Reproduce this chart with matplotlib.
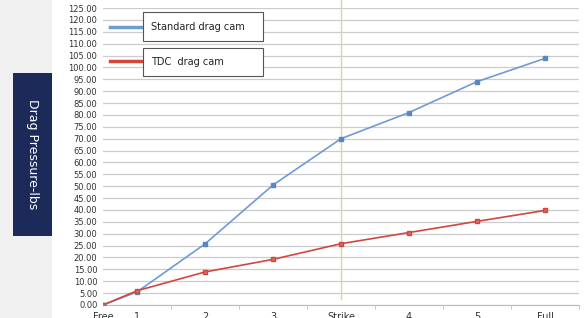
import matplotlib
matplotlib.use("Agg")
import matplotlib.pyplot as plt
from matplotlib.patches import Rectangle
import numpy as np

categories = ["Free", "1", "2", "3", "Strike", "4", "5", "Full"]
cat_pos = [0, 0.5, 1.5, 2.5, 3.5, 4.5, 5.5, 6.5]
standard = [0.0, 5.5, 25.7, 50.5, 70.0, 81.0, 94.0, 103.8]
tdc = [0.0, 6.0, 13.9, 19.2, 25.8, 30.5, 35.2, 39.8]
series_names = ["Standard drag cam", "TDC  drag cam"]
yticks = np.arange(0, 126, 5)

fig = plt.figure(figsize=(5.87, 3.18), dpi=100)
fig.patch.set_facecolor("white")
# left gray panel
fig.patches.append(Rectangle((0, 0), 52/587, 1, transform=fig.transFigure,
                             facecolor="#f0f0f0", edgecolor="none", zorder=0))
# navy title box
fig.patches.append(Rectangle((13/587, 1-236/318), 39/587, 163/318, transform=fig.transFigure,
                             facecolor="#1c2a5a", edgecolor="none", zorder=1))
fig.text(32.5/587, 1-154.5/318, "Drag Pressure-lbs", rotation=270, color="white",
         fontsize=9, ha="center", va="center", family="DejaVu Sans")

ax = fig.add_axes([103/587, 13/318, 476/587, 297/318])
ax.set_xlim(0, 7)
ax.set_ylim(0, 125)
ax.set_yticks(yticks)
ax.set_yticklabels([f"{v:.2f}" for v in yticks], fontsize=6, color="#333333")
ax.yaxis.grid(True, color="#cccccc", linewidth=0.9)
ax.set_axisbelow(True)
ax.tick_params(axis="y", length=0, pad=4)
ax.set_xticks(cat_pos)
ax.set_xticklabels(categories, fontsize=7, color="#333333")
ax.set_xticks(np.arange(1, 8), minor=True)
ax.tick_params(axis="x", which="major", length=0, pad=5)
ax.tick_params(axis="x", which="minor", length=3, color="#bbbbbb")
for s in ["top", "right", "left"]:
    ax.spines[s].set_visible(False)
ax.spines["bottom"].set_color("#bbbbbb")
ax.spines["bottom"].set_linewidth(0.8)

# vertical marker at Strike
ax.plot([cat_pos[4], cat_pos[4]], [2.5, 130], color="#d9d5a0", linewidth=1.0, zorder=1, clip_on=False)

ax.plot(cat_pos, standard, color="#6f9bd5", linewidth=1.2, marker="s", markersize=2.5,
        markerfacecolor="#5a86c4", markeredgecolor="#5a86c4", zorder=3)
ax.plot(cat_pos, tdc, color="#d2463c", linewidth=1.2, marker="s", markersize=3.5,
        markerfacecolor="#d66a60", markeredgecolor="#d2463c", zorder=4)

# legend (two separate boxes)
def leg(y_line, y0, y1, color, label):
    fig.lines.append(plt.Line2D([110/587, 146/587], [1-y_line/318]*2, transform=fig.transFigure,
                                color=color, linewidth=2.5, zorder=5))
    fig.patches.append(Rectangle((143/587, 1-y1/318), 120/587, (y1-y0)/318,
                                 transform=fig.transFigure, facecolor="white",
                                 edgecolor="#555555", linewidth=0.8, zorder=6))
    fig.text(151/587, 1-(y0+y1)/2/318, label, fontsize=7, color="#222222",
             ha="left", va="center", zorder=7)

leg(27, 12, 41, "#6f9bd5", series_names[0])
leg(61, 48, 76, "#d2463c", series_names[1])

fig.savefig("out.png", dpi=100)
